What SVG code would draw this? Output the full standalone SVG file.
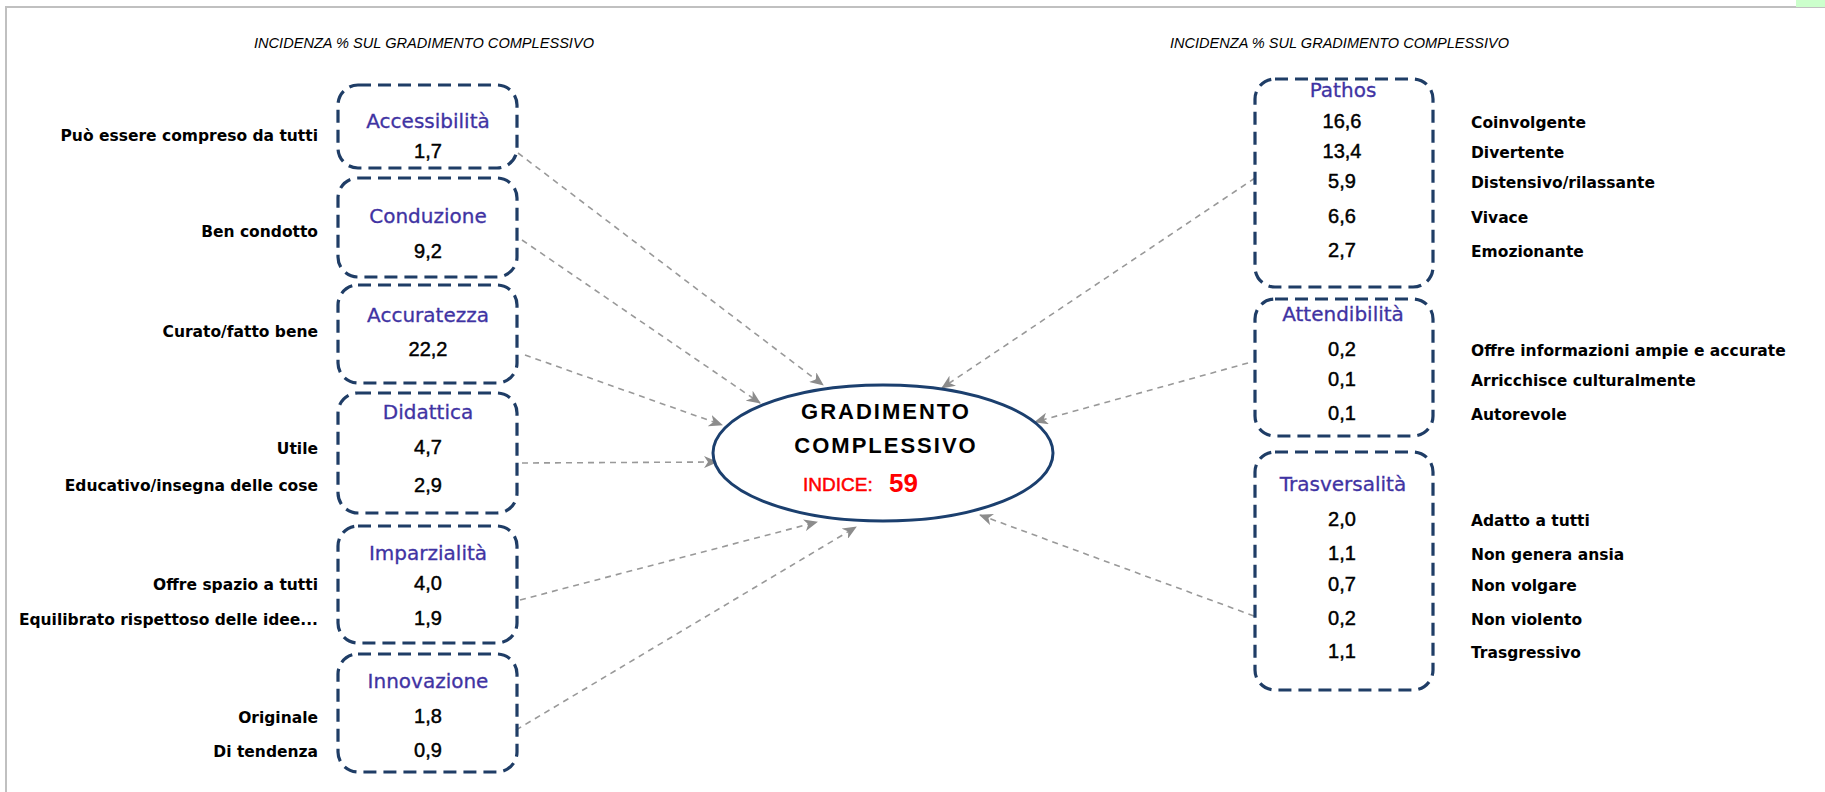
<svg xmlns="http://www.w3.org/2000/svg" width="1825" height="792" viewBox="0 0 1825 792">
<defs>
<style>
.frame{fill:none;stroke:#c0c0c0;stroke-width:2}
.box{fill:none;stroke:#1f3d66;stroke-width:3.2;stroke-dasharray:13 7}
.ttl{font-family:"DejaVu Sans",sans-serif;font-size:20px;fill:#3f33a3;stroke:#3f33a3;stroke-width:0.3;text-anchor:middle}
.val{font-family:"Liberation Sans",Arial,sans-serif;font-size:20px;fill:#000;stroke:#000;stroke-width:0.45;text-anchor:middle}
.lbl{font-family:"DejaVu Sans",sans-serif;font-size:15.5px;font-weight:bold;fill:#000}
.lblL{text-anchor:end}
.head{font-family:"Liberation Sans",Arial,sans-serif;font-size:14px;font-style:italic;fill:#000}
.conn{fill:none;stroke:#999;stroke-width:1.6;stroke-dasharray:6 5}
.center{font-family:"Liberation Sans",Arial,sans-serif;font-size:22px;font-weight:bold;fill:#000;letter-spacing:2px;text-anchor:middle}
</style>
<marker id="arr" viewBox="0 0 14 12" refX="13" refY="6" markerWidth="14" markerHeight="12" markerUnits="userSpaceOnUse" orient="auto">
<path d="M0,0 L14,6 L0,12 L4,6 z" fill="#8c8c8c"/>
</marker>
</defs>
<rect width="1825" height="792" fill="#fff"/>
<path class="frame" d="M6,792 L6,7 L1825,7"/>
<rect x="1796" y="0" width="29" height="7" fill="#ccffcc"/>

<text class="head" x="254" y="48" textLength="340" lengthAdjust="spacingAndGlyphs">INCIDENZA % SUL GRADIMENTO COMPLESSIVO</text>
<text class="head" x="1170" y="48" textLength="339" lengthAdjust="spacingAndGlyphs">INCIDENZA % SUL GRADIMENTO COMPLESSIVO</text>

<g id="connectors">
<line class="conn" x1="518" y1="153" x2="823" y2="385" marker-end="url(#arr)"/>
<line class="conn" x1="522" y1="240" x2="760" y2="403" marker-end="url(#arr)"/>
<line class="conn" x1="525" y1="355" x2="722" y2="425" marker-end="url(#arr)"/>
<line class="conn" x1="522" y1="463" x2="717" y2="462" marker-end="url(#arr)"/>
<line class="conn" x1="520" y1="600" x2="817" y2="522" marker-end="url(#arr)"/>
<line class="conn" x1="516" y1="730" x2="856" y2="527" marker-end="url(#arr)"/>
<line class="conn" x1="1255" y1="178" x2="942" y2="388" marker-end="url(#arr)"/>
<line class="conn" x1="1248" y1="363" x2="1035" y2="422" marker-end="url(#arr)"/>
<line class="conn" x1="1254" y1="616" x2="980" y2="515" marker-end="url(#arr)"/>
</g>

<g id="gradimento">
<ellipse cx="883" cy="453" rx="170" ry="68" fill="#fff" stroke="#1b3f6e" stroke-width="3"/>
<text class="center" x="886" y="419">GRADIMENTO</text>
<text class="center" x="886" y="453">COMPLESSIVO</text>
<text x="803" y="491" font-family="Liberation Sans, Arial, sans-serif" font-size="19" fill="#ff0000" stroke="#ff0000" stroke-width="0.5">INDICE:</text>
<text x="889" y="492" font-family="Liberation Sans, Arial, sans-serif" font-size="26" font-weight="bold" fill="#ff0000">59</text>
</g>

<g id="accessibilita">
<rect class="box" x="338" y="85" width="179" height="83" rx="20"/>
<text class="ttl" x="428" y="128">Accessibilità</text>
<text class="val" x="428" y="158">1,7</text>
<text class="lbl lblL" x="318" y="141">Può essere compreso da tutti</text>
</g>

<g id="conduzione">
<rect class="box" x="338" y="178" width="179" height="99" rx="20"/>
<text class="ttl" x="428" y="223">Conduzione</text>
<text class="val" x="428" y="258">9,2</text>
<text class="lbl lblL" x="318" y="237">Ben condotto</text>
</g>

<g id="accuratezza">
<rect class="box" x="338" y="285" width="179" height="98" rx="20"/>
<text class="ttl" x="428" y="322">Accuratezza</text>
<text class="val" x="428" y="356">22,2</text>
<text class="lbl lblL" x="318" y="337">Curato/fatto bene</text>
</g>

<g id="didattica">
<rect class="box" x="338" y="393" width="179" height="120" rx="20"/>
<text class="ttl" x="428" y="419">Didattica</text>
<text class="val" x="428" y="454">4,7</text>
<text class="val" x="428" y="492">2,9</text>
<text class="lbl lblL" x="318" y="454">Utile</text>
<text class="lbl lblL" x="318" y="491">Educativo/insegna delle cose</text>
</g>

<g id="imparzialita">
<rect class="box" x="338" y="526" width="179" height="117" rx="20"/>
<text class="ttl" x="428" y="560">Imparzialità</text>
<text class="val" x="428" y="590">4,0</text>
<text class="val" x="428" y="625">1,9</text>
<text class="lbl lblL" x="318" y="590">Offre spazio a tutti</text>
<text class="lbl lblL" x="318" y="625">Equilibrato rispettoso delle idee...</text>
</g>

<g id="innovazione">
<rect class="box" x="338" y="654" width="179" height="118" rx="20"/>
<text class="ttl" x="428" y="688">Innovazione</text>
<text class="val" x="428" y="723">1,8</text>
<text class="val" x="428" y="757">0,9</text>
<text class="lbl lblL" x="318" y="723">Originale</text>
<text class="lbl lblL" x="318" y="757">Di tendenza</text>
</g>

<g id="pathos">
<rect class="box" x="1255" y="79" width="178" height="208" rx="20"/>
<text class="ttl" x="1343" y="97">Pathos</text>
<text class="val" x="1342" y="128">16,6</text>
<text class="val" x="1342" y="158">13,4</text>
<text class="val" x="1342" y="188">5,9</text>
<text class="val" x="1342" y="223">6,6</text>
<text class="val" x="1342" y="257">2,7</text>
<text class="lbl" x="1471" y="128">Coinvolgente</text>
<text class="lbl" x="1471" y="158">Divertente</text>
<text class="lbl" x="1471" y="188">Distensivo/rilassante</text>
<text class="lbl" x="1471" y="223">Vivace</text>
<text class="lbl" x="1471" y="257">Emozionante</text>
</g>

<g id="attendibilita">
<rect class="box" x="1255" y="299" width="178" height="137" rx="20"/>
<text class="ttl" x="1343" y="321">Attendibilità</text>
<text class="val" x="1342" y="356">0,2</text>
<text class="val" x="1342" y="386">0,1</text>
<text class="val" x="1342" y="420">0,1</text>
<text class="lbl" x="1471" y="356">Offre informazioni ampie e accurate</text>
<text class="lbl" x="1471" y="386">Arricchisce culturalmente</text>
<text class="lbl" x="1471" y="420">Autorevole</text>
</g>

<g id="trasversalita">
<rect class="box" x="1255" y="452" width="178" height="238" rx="20"/>
<text class="ttl" x="1343" y="491">Trasversalità</text>
<text class="val" x="1342" y="526">2,0</text>
<text class="val" x="1342" y="560">1,1</text>
<text class="val" x="1342" y="591">0,7</text>
<text class="val" x="1342" y="625">0,2</text>
<text class="val" x="1342" y="658">1,1</text>
<text class="lbl" x="1471" y="526">Adatto a tutti</text>
<text class="lbl" x="1471" y="560">Non genera ansia</text>
<text class="lbl" x="1471" y="591">Non volgare</text>
<text class="lbl" x="1471" y="625">Non violento</text>
<text class="lbl" x="1471" y="658">Trasgressivo</text>
</g>
</svg>
